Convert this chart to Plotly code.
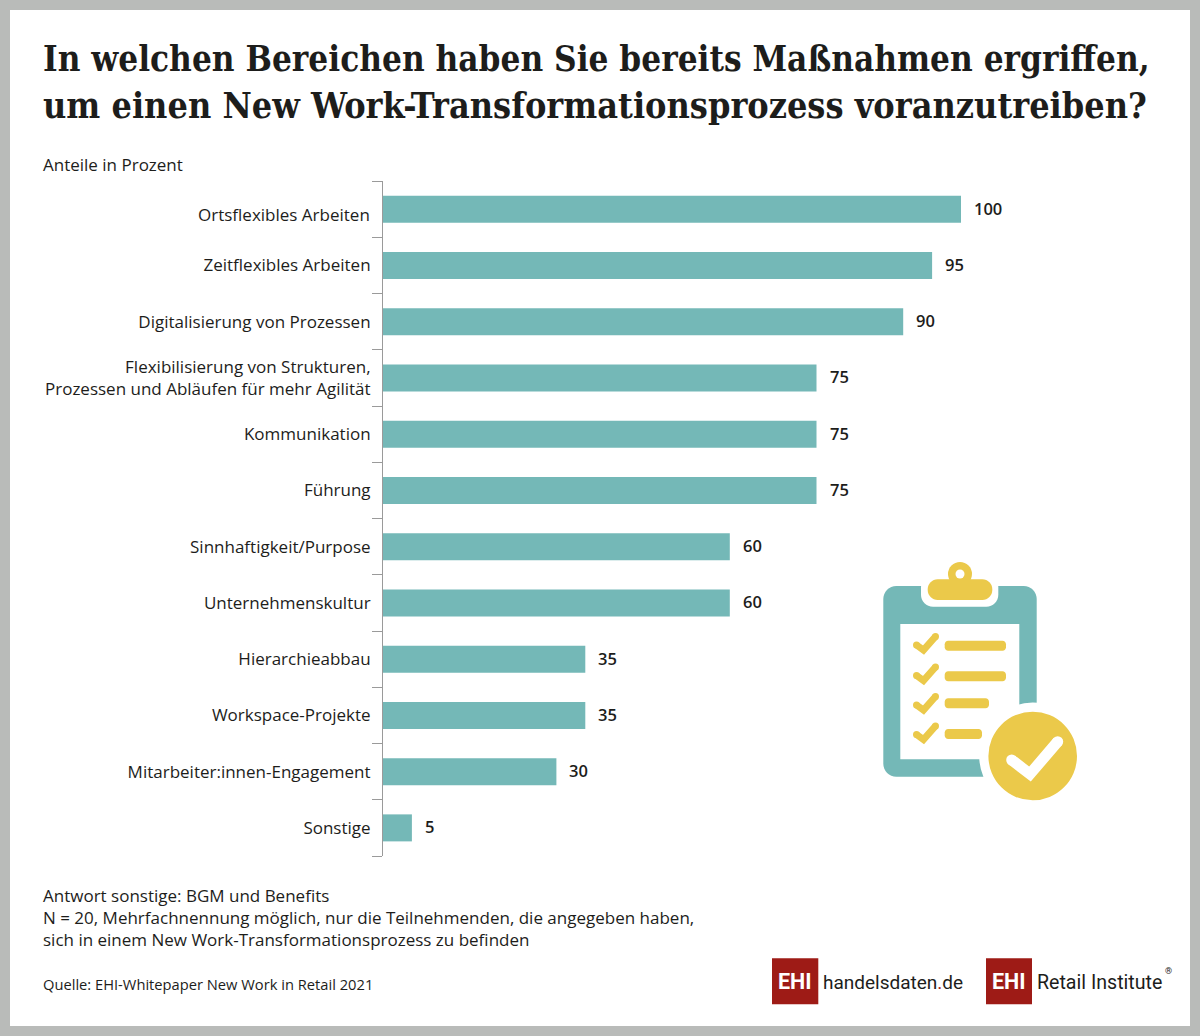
import plotly.graph_objects as go

W = 1200
H = 1036

categories = [
    'Ortsflexibles Arbeiten',
    'Zeitflexibles Arbeiten',
    'Digitalisierung von Prozessen',
    'Flexibilisierung von Strukturen,<br>Prozessen und Abläufen für mehr Agilität',
    'Kommunikation',
    'Führung',
    'Sinnhaftigkeit/Purpose',
    'Unternehmenskultur',
    'Hierarchieabbau',
    'Workspace-Projekte',
    'Mitarbeiter:innen-Engagement',
    'Sonstige',
]
values = [100, 95, 90, 75, 75, 75, 60, 60, 35, 35, 30, 5]

title_lines = [
    'In welchen Bereichen haben Sie bereits Maßnahmen ergriffen,',
    'um einen New Work-Transformationsprozess voranzutreiben?',
]
subtitle = 'Anteile in Prozent'
notes = [
    'Antwort sonstige: BGM und Benefits',
    'N = 20, Mehrfachnennung möglich, nur die Teilnehmenden, die angegeben haben,',
    'sich in einem New Work-Transformationsprozess zu befinden',
]
source = 'Quelle: EHI-Whitepaper New Work in Retail 2021'

TEAL = '#74b8b7'
GOLD = '#ebc94a'
RED = '#9e1b16'
FRAME = '#b9bbb9'
INK = '#1d1d1b'
SANS = 'Open Sans, sans-serif'
SLAB = 'DejaVu Serif Condensed, DejaVu Serif, serif'
LOGO = 'Roboto, sans-serif'


def px(x):
    return x / W


def py(y):
    return 1 - y / H


def text(x, y, s, size, color=INK, family=SANS, anchor='left', weight=None):
    # x, y in page pixels
    return dict(
        xref='paper', yref='paper', x=px(x), y=py(y), text=s, showarrow=False,
        xanchor=anchor, yanchor='middle', align=anchor,
        font=dict(size=size, color=color, family=family, weight=weight),
    )


def rect(x0, y0, x1, y1, color, layer='above'):
    return dict(type='rect', xref='paper', yref='paper', x0=px(x0), x1=px(x1),
                y0=py(y0), y1=py(y1), fillcolor=color, line_width=0, layer=layer)


def circle(cx, cy, r, color):
    return dict(type='circle', xref='paper', yref='paper', x0=px(cx - r), x1=px(cx + r),
                y0=py(cy - r), y1=py(cy + r), fillcolor=color, line_width=0, layer='above')


def rrect_path(x0, y0, x1, y1, r):
    c = 0.45 * r
    p = [
        'M', x0 + r, y0, 'L', x1 - r, y0, 'C', x1 - c, y0, x1, y0 + c, x1, y0 + r,
        'L', x1, y1 - r, 'C', x1, y1 - c, x1 - c, y1, x1 - r, y1,
        'L', x0 + r, y1, 'C', x0 + c, y1, x0, y1 - c, x0, y1 - r,
        'L', x0, y0 + r, 'C', x0, y0 + c, x0 + c, y0, x0 + r, y0, 'Z',
    ]
    out = []
    i = 0
    while i < len(p):
        if isinstance(p[i], str):
            out.append(p[i])
            i += 1
        else:
            out.append('{:.5f},{:.5f}'.format(px(p[i]), py(p[i + 1])))
            i += 2
    return ' '.join(out)


def rrect(x0, y0, x1, y1, r, color):
    return dict(type='path', xref='paper', yref='paper', path=rrect_path(x0, y0, x1, y1, r),
                fillcolor=color, line_width=0, layer='above')


def check(pts, w, color):
    d = 'M' + ' L'.join('{:.5f},{:.5f}'.format(px(a), py(b)) for a, b in pts)
    out = [dict(type='path', xref='paper', yref='paper', path=d, line=dict(color=color, width=w),
                layer='above')]
    for a, b in (pts[0], pts[-1]):
        out.append(circle(a, b, w / 2, color))
    return out


fig = go.Figure(go.Bar(
    x=values,
    y=categories,
    orientation='h',
    marker=dict(color=TEAL, line_width=0),
    width=0.48,
    hoverinfo='skip',
))

# frame
shapes = [rect(10, 10, 1190, 1026, 'white', layer='below')]

# clipboard icon
shapes.append(rrect(883.3, 586, 1036.7, 776.7, 13, TEAL))
shapes.append(rect(900.3, 624, 1019.3, 759.3, 'white'))
shapes.append(rrect(921, 575, 998.3, 606.7, 12, 'white'))
shapes.append(circle(960, 574, 12, GOLD))
shapes.append(rrect(927.7, 579.3, 992.3, 600, 10, GOLD))
shapes.append(circle(960, 574, 4.5, 'white'))
for y0, x1 in [(640.7, 1006), (671.3, 1006), (698.3, 989), (729, 982)]:
    shapes.append(rrect(944.7, y0, x1, y0 + 10, 3.5, GOLD))
for dy in [0, 30.5, 60, 89.5]:
    shapes += check([(916.5, 645 + dy), (923.5, 650 + dy), (935.5, 636.5 + dy)], 7, GOLD)
shapes.append(rect(1000, 745, 1045, 790, 'white'))
shapes.append(circle(1032.7, 756, 53.5, 'white'))
shapes.append(circle(1032.7, 756, 44.3, GOLD))
shapes += check([(1011.7, 760), (1030, 774), (1057.7, 741.7)], 11, 'white')

# logos
shapes.append(rect(772, 958.3, 818.3, 1004.3, RED))
shapes.append(rect(986, 958.3, 1032, 1004.3, RED))

annotations = [
    text(41, 59, title_lines[0], 34.8, family=SLAB, weight='bold'),
    text(41, 105, title_lines[1], 35.7, family=SLAB, weight='bold'),
    text(41, 165, subtitle, 17),
    text(41, 895, notes[0], 17),
    text(41, 917, notes[1], 17),
    text(41, 939, notes[2], 17),
    text(41, 983.5, source, 14.7),
    text(795, 981, 'EHI', 21.5, color='white', family=LOGO, anchor='center', weight='bold'),
    text(1009, 981, 'EHI', 21.5, color='white', family=LOGO, anchor='center', weight='bold'),
    text(821, 982, 'handelsdaten<span style="color:#9e1b16">.</span>de', 19, family=LOGO),
    text(1035, 982, 'Retail Institute', 19.6, family=LOGO),
    text(1163, 971, '®', 9, family=LOGO),
    # the first row label sits a little lower than its bar in the original
    text(372, 215, categories[0], 17, anchor='right'),
]
for cat, val in zip(categories, values):
    annotations.append(dict(
        xref='x', yref='y', x=val, y=cat, text=str(val), showarrow=False,
        xanchor='left', xshift=11, yshift=1,
        font=dict(size=16.5, color=INK, family=SANS, weight=600),
    ))

fig.update_layout(
    width=W,
    height=H,
    margin=dict(l=0, r=0, t=0, b=0),
    paper_bgcolor=FRAME,
    plot_bgcolor='rgba(0,0,0,0)',
    showlegend=False,
    bargap=0.52,
    shapes=shapes,
    annotations=annotations,
    font=dict(family=SANS, color=INK, size=17),
)
fig.update_xaxes(domain=[px(383), px(961)], range=[0, 100], visible=False, fixedrange=True)
fig.update_yaxes(
    domain=[py(856), py(181)],
    type='category',
    autorange='reversed',
    tickmode='array',
    tickvals=categories,
    ticktext=[''] + categories[1:],
    showline=True,
    linecolor='#9a9a9a',
    linewidth=1,
    ticks='outside',
    tickson='boundaries',
    ticklen=10,
    tickcolor='#9a9a9a',
    ticklabelstandoff=8,
    showgrid=False,
    fixedrange=True,
    tickfont=dict(size=17, family=SANS, color=INK),
)

fig.write_html('out.html', post_script="document.body.style.margin='0';", config={'displayModeBar': False})
